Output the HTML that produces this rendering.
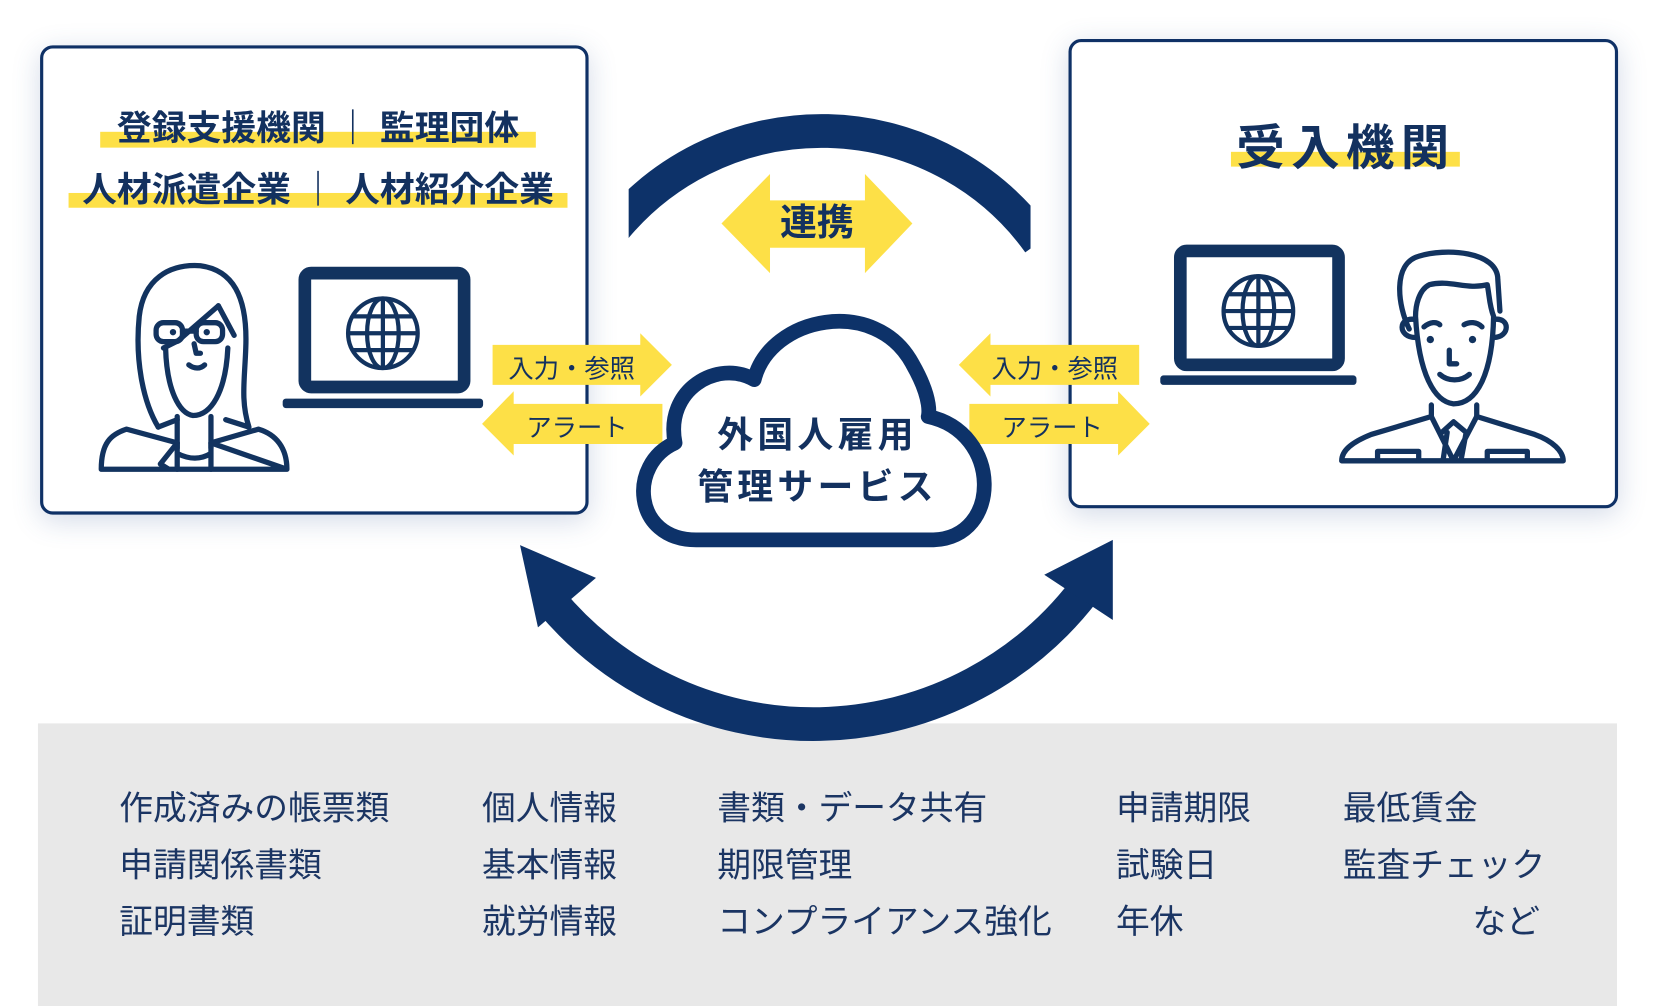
<!DOCTYPE html>
<html><head><meta charset="utf-8"><style>
html,body{margin:0;padding:0;background:#fff;overflow:hidden}
#w{position:absolute;left:0;top:0;width:1568px;height:954px;transform:scale(1.0548,1.0545);transform-origin:0 0;font-family:"Liberation Sans","Noto Sans CJK JP",sans-serif;color:#13315f}
.box{position:absolute;border:3px solid #0f3166;border-radius:12px;background:#fff;box-shadow:0 6px 26px rgba(60,90,150,.22)}
.t{position:absolute;white-space:nowrap;font-weight:bold}
.hl{position:absolute;background:#fde047}
.g{position:absolute;font-size:32px;line-height:54px;color:#1b3563;white-space:nowrap}
</style></head><body><div id="w">
<div class="box" style="left:38px;top:43px;width:514px;height:439px"></div>
<div class="box" style="left:1013px;top:37px;width:515px;height:439px"></div>
<div style="position:absolute;left:36px;top:686px;width:1497px;height:268px;background:#e8e8e8"></div>
<div class="hl" style="left:95px;top:125px;width:413px;height:15px"></div>
<div class="hl" style="left:65px;top:183px;width:473px;height:14px"></div>
<div class="hl" style="left:1167px;top:144px;width:217px;height:14px"></div>
<div class="t" style="left:40px;width:523px;top:95px;font-size:33px;text-align:center">登録支援機関 ｜ 監理団体</div>
<div class="t" style="left:40px;width:523px;top:153px;font-size:33px;text-align:center">人材派遣企業 ｜ 人材紹介企業</div>
<div class="t" style="left:1160px;width:232px;top:104px;font-size:46px;text-align:center;letter-spacing:6px">受入機関</div>
<svg width="1568" height="954" style="position:absolute;left:0;top:0">
<defs><clipPath id="c"><rect x="596" y="0" width="381" height="300"/></clipPath></defs>
<g fill="none" stroke="#0d3269" stroke-width="32">
<path clip-path="url(#c)" d="M580 220 A254 254 0 0 1 985 230"/>
<path d="M522 570 A324 324 0 0 0 1028 560"/>
</g>
<polygon points="493,517 565,548 510,595" fill="#0d3269"/>
<polygon points="1055,512 1055,588 990,545" fill="#0d3269"/>
<g fill="#fde047">
<polygon points="684,212 730,165 730,190 820,190 820,165 865,212 820,259 820,235 730,235 730,259"/>
<polygon points="467,327 607,327 607,316 637,346 607,376 607,365 467,365"/>
<polygon points="457,402 487,371 487,383 628,383 628,421 487,421 487,432"/>
<polygon points="909,346 939,316 939,327 1080,327 1080,365 939,365 939,376"/>
<polygon points="919,383 1060,383 1060,371 1090,402 1060,432 1060,421 919,421"/>
</g>
<path d="M660 512 C600 512 595 440 640 420 C630 370 680 340 715 360 C730 300 830 280 865 345 C885 380 880 395 880 395 C950 410 950 510 885 512 Z" fill="#fff" stroke="#0d3269" stroke-width="14" stroke-linejoin="round"/>
<g fill="none" stroke="#12335f">
<rect x="289" y="259" width="151" height="108" rx="6" stroke-width="12"/>
<rect x="1119" y="238" width="150" height="108" rx="6" stroke-width="12"/>
<g stroke-width="4">
<circle cx="363" cy="316" r="33"/><ellipse cx="363" cy="316" rx="15" ry="33"/><line x1="363" y1="283" x2="363" y2="349"/><line x1="330" y1="316" x2="396" y2="316"/><line x1="334" y1="300" x2="392" y2="300"/><line x1="334" y1="332" x2="392" y2="332"/>
<circle cx="1193" cy="295" r="33"/><ellipse cx="1193" cy="295" rx="15" ry="33"/><line x1="1193" y1="262" x2="1193" y2="328"/><line x1="1160" y1="295" x2="1226" y2="295"/><line x1="1164" y1="279" x2="1222" y2="279"/><line x1="1164" y1="311" x2="1222" y2="311"/>
</g></g>
<rect x="268" y="378" width="190" height="9" rx="3" fill="#12335f"/>
<rect x="1100" y="356" width="186" height="9" rx="3" fill="#12335f"/>
<g fill="none" stroke="#12335f" stroke-width="5" stroke-linejoin="round" stroke-linecap="round">
<path d="M150 405 C135 380 128 340 132 300 C136 265 160 250 190 252 C220 256 235 280 233 330 C232 360 228 380 236 405 L214 398"/>
<path d="M150 405 L168 398 M207 290 L169 323 L155 330"/>
<path d="M207 290 L222 318"/>
<path d="M157 330 C158 370 170 392 183 394 C200 394 214 372 216 330"/>
<path d="M168 395 L168 425 M200 395 L200 425"/>
<path d="M96 445 C96 420 105 412 120 407 L168 420 L152 440 L160 445 M200 420 L245 407 C262 412 272 425 272 445 Z M96 445 L272 445"/>
<path d="M168 420 L168 445 M200 420 L200 445 M168 430 C180 436 190 436 200 430"/>
<rect x="148" y="306" width="25" height="18" rx="7"/><rect x="186" y="306" width="25" height="18" rx="7"/>
<path d="M173 314 L186 314 M184 326 L186 335 L190 335 M179 346 C184 350 190 350 194 346"/>
</g>
<g fill="none" stroke="#12335f" stroke-width="5" stroke-linejoin="round" stroke-linecap="round">
<path d="M1336 312 C1325 290 1320 250 1345 243 C1370 235 1420 238 1420 265 L1422 295"/>
<path d="M1342 300 C1345 355 1360 381 1378 383 C1400 383 1415 355 1416 300 C1412 290 1412 280 1410 270 C1390 275 1375 265 1355 270 C1345 275 1342 290 1342 300"/>
<path d="M1342 320 C1325 320 1325 300 1342 303 M1416 320 C1432 320 1432 300 1416 303"/>
<path d="M1357 384 L1357 395 L1300 412 C1280 420 1272 428 1272 437 L1482 437 C1482 428 1472 418 1455 412 L1400 395 L1400 384"/>
<path d="M1357 395 L1378 437 L1400 395 M1367 410 L1378 400 L1390 410 L1385 437 M1372 410 L1368 437"/>
<path d="M1306 437 L1306 428 L1345 428 L1345 437 M1410 437 L1410 428 L1448 428 L1448 437"/>
<path d="M1350 310 C1356 305 1362 305 1365 308 M1388 308 C1393 305 1400 305 1405 310 M1374 332 L1374 345 L1381 345 M1365 355 C1373 362 1385 362 1393 355"/>
</g>
<circle cx="1356" cy="322" r="3.5" fill="#12335f"/><circle cx="1396" cy="322" r="3.5" fill="#12335f"/>
<circle cx="164" cy="315" r="3" fill="#12335f"/><circle cx="196" cy="315" r="3" fill="#12335f"/>
</svg>
<div class="t" style="left:684px;width:181px;top:190px;font-size:35px;text-align:center;line-height:44px">連携</div>
<div class="t" style="left:615px;width:320px;top:389px;font-size:34px;text-align:center;line-height:49px;letter-spacing:4px">外国人雇用<br>管理サービス</div>
<div class="t" style="left:467px;width:150px;top:330px;font-size:24px;font-weight:normal;text-align:center">入力・参照</div>
<div class="t" style="left:487px;width:120px;top:386px;font-size:24px;font-weight:normal;text-align:center">アラート</div>
<div class="t" style="left:925px;width:150px;top:330px;font-size:24px;font-weight:normal;text-align:center">入力・参照</div>
<div class="t" style="left:925px;width:145px;top:386px;font-size:24px;font-weight:normal;text-align:center">アラート</div>
<div class="g" style="left:113px;top:739px">作成済みの帳票類<br>申請関係書類<br>証明書類</div>
<div class="g" style="left:457px;top:739px">個人情報<br>基本情報<br>就労情報</div>
<div class="g" style="left:680px;top:739px">書類・データ共有<br>期限管理<br>コンプライアンス強化</div>
<div class="g" style="left:1058px;top:739px">申請期限<br>試験日<br>年休</div>
<div class="g" style="left:1273px;top:739px">最低賃金<br>監査チェック</div>
<div class="g" style="left:1300px;top:847px;width:160px;text-align:right">など</div>
</div></body></html>
